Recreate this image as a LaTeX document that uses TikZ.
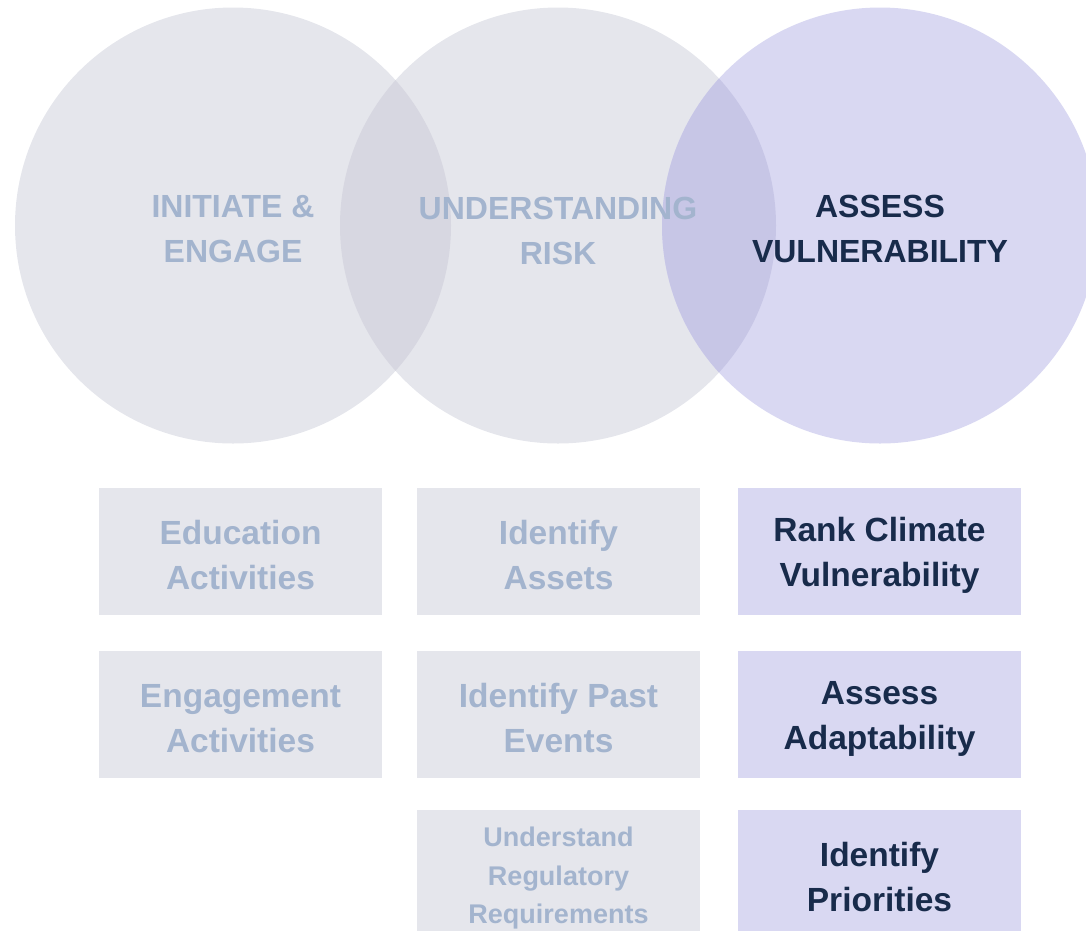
\documentclass[tikz,border=0pt]{standalone}
\usepackage{fontspec}
\setmainfont{Liberation Sans}
\definecolor{greyfill}{HTML}{E5E6EC}
\definecolor{greylap}{HTML}{D7D7E1}
\definecolor{purplefill}{HTML}{D9D8F2}
\definecolor{purplelap}{HTML}{C7C6E6}
\definecolor{lighttext}{HTML}{A3B4CE}
\definecolor{darktext}{HTML}{182B4B}
\tikzset{
  title/.style={align=center, font=\bfseries\fontsize{32}{45}\selectfont, inner sep=0pt},
  greytitle/.style={title, text=lighttext},
  darktitle/.style={title, text=darktext},
  boxbase/.style={minimum width=283pt, minimum height=127pt, inner sep=0pt, align=center,
     font=\bfseries\fontsize{33.5}{45}\selectfont},
  greybox/.style={boxbase, fill=greyfill, text=lighttext},
  purplebox/.style={boxbase, fill=purplefill, text=darktext},
  boxtext/.style={align=center, inner sep=0pt},
}
\begin{document}
\begin{tikzpicture}[x=1pt, y=-1pt]
\useasboundingbox (0,0) rectangle (1086,930);
\clip (0,0) rectangle (1086,930);
% circles
\coordinate (c1) at (233,225.5);
\coordinate (c2) at (558,225.5);
\coordinate (c3) at (880,225.5);
\fill[greyfill] (c1) circle (218);
\fill[greyfill] (c2) circle (218);
\fill[purplefill] (c3) circle (218);
\begin{scope}
  \clip (c1) circle (218);
  \fill[greylap] (c2) circle (218);
\end{scope}
\begin{scope}
  \clip (c2) circle (218);
  \fill[purplelap] (c3) circle (218);
\end{scope}
% titles
\node[greytitle] (t1) at (233,229) {INITIATE \&\\ENGAGE};
\node[greytitle] (t2) at (558,231) {UNDERSTANDING\\RISK};
\node[darktitle] (t3) at (880,229) {ASSESS\\VULNERABILITY};
% boxes
\node[greybox] (b11) at (240.5,551.5) {};
\node[greybox] (b12) at (240.5,714.5) {};
\node[greybox] (b21) at (558.5,551.5) {};
\node[greybox] (b22) at (558.5,714.5) {};
\node[greybox] (b23) at (558.5,873.5) {};
\node[purplebox] (b31) at (879.5,551.5) {};
\node[purplebox] (b32) at (879.5,714.5) {};
\node[purplebox] (b33) at (879.5,873.5) {};
% box texts
\begin{scope}[every node/.style={boxtext, font=\bfseries\fontsize{33.5}{45}\selectfont}]
\node[text=lighttext] (l11) at ([yshift=-4pt]b11.center) {Education\\Activities};
\node[text=lighttext] (l12) at ([yshift=-4pt]b12.center) {Engagement\\Activities};
\node[text=lighttext] (l21) at ([yshift=-4pt]b21.center) {Identify\\Assets};
\node[text=lighttext] (l22) at ([yshift=-4pt]b22.center) {Identify Past\\Events};
\node[text=lighttext, font=\bfseries\fontsize{27}{38.5}\selectfont] (l23) at ([yshift=-5pt]b23.center) {Understand\\Regulatory\\Requirements};
\node[text=darktext] (l31) at ([yshift=-4pt]b31.center) {Rank Climate\\Vulnerability};
\node[text=darktext] (l32) at ([yshift=-4pt]b32.center) {Assess\\Adaptability};
\node[text=darktext] (l33) at ([yshift=-4pt]b33.center) {Identify\\Priorities};
\end{scope}
\end{tikzpicture}
\end{document}
